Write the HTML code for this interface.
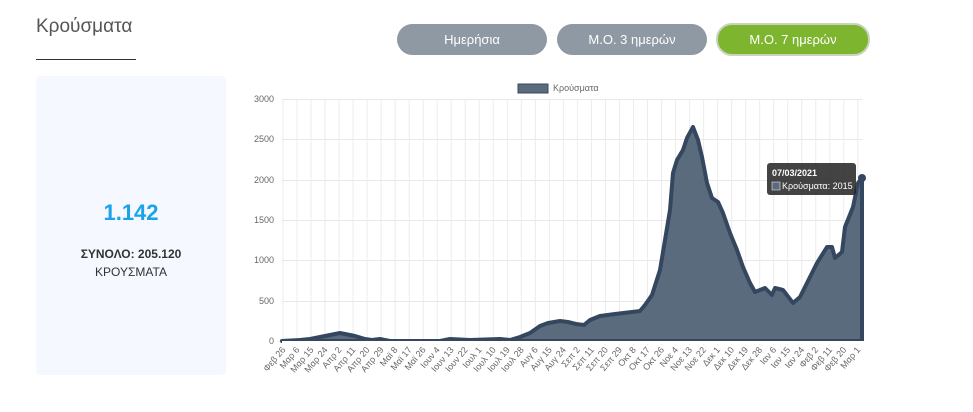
<!DOCTYPE html>
<html><head><meta charset="utf-8"><style>
body{margin:0;width:973px;height:412px;background:#fff;font-family:"Liberation Sans",sans-serif;overflow:hidden;position:relative}
.t{position:absolute;left:36px;top:16px;font-size:19px;color:#555;font-weight:300}
.ul{position:absolute;left:36px;top:59px;width:100px;height:1px;background:#333}
.card{position:absolute;left:36px;top:76px;width:190px;height:299px;background:#f5f8fe;border-radius:4px;text-align:center}
.big{position:absolute;top:124px;width:100%;font-size:22px;font-weight:bold;color:#1aa3e8}
.s1{position:absolute;top:171px;width:100%;font-size:12px;font-weight:bold;color:#333}
.s2{position:absolute;top:189px;width:100%;font-size:12px;color:#333}
.b{position:absolute;top:24px;height:31px;width:150px;border-radius:16px;background:#8e99a4;color:#fff;font-size:13px;line-height:31px;text-align:center}
</style></head><body>
<div class="t">Κρούσματα</div><div class="ul"></div>
<div class="card"><div class="big">1.142</div><div class="s1">ΣΥΝΟΛΟ: 205.120</div><div class="s2">ΚΡΟΥΣΜΑΤΑ</div></div>
<div class="b" style="left:397px">Ημερήσια</div>
<div class="b" style="left:557px">Μ.Ο. 3 ημερών</div>
<div class="b" style="left:716px;top:23px;width:150px;height:29px;line-height:29px;background:#7db52f;border:2px solid #c9d4c0">Μ.Ο. 7 ημερών</div>
<svg width="973" height="412" style="position:absolute;left:0;top:0" font-family="Liberation Sans, sans-serif">
<rect x="518" y="84" width="30" height="9" fill="#5b6b7e" stroke="#3a4a5e"/>
<text x="553" y="91" font-size="9" fill="#666">Κρούσματα</text>
<g stroke="#e8e8e8" stroke-width="1">
<line x1="282" y1="99.5" x2="862" y2="99.5"/><line x1="282" y1="139.5" x2="862" y2="139.5"/><line x1="282" y1="180.5" x2="862" y2="180.5"/><line x1="282" y1="220.5" x2="862" y2="220.5"/><line x1="282" y1="260.5" x2="862" y2="260.5"/><line x1="282" y1="301.5" x2="862" y2="301.5"/><line x1="278" y1="341.5" x2="862" y2="341.5"/>
</g>
<g id="vg" stroke="#ececec"></g>
<g font-size="9" fill="#666" text-anchor="end">
<text x="274" y="102">3000</text><text x="274" y="142">2500</text><text x="274" y="183">2000</text><text x="274" y="223">1500</text><text x="274" y="263">1000</text><text x="274" y="304">500</text><text x="274" y="344">0</text>
</g>
<g id="xl" font-size="9" fill="#666" text-anchor="end"></g>
<polygon fill="#5b6b7e" stroke="#34475e" stroke-width="4" stroke-linejoin="round" points="282,341 300,340 310,339 320,337 330,335 340,333 345,334 355,336 365,339 372,340 380,339 390,341 440,341 450,339 470,340 500,339 510,340 520,337 530,333 540,326 548,323 560,321 568,322 576,324 584,325 590,320 600,316 615,314 640,311 645,305 652,295 660,270 670,210 673,173 677,160 683,150 687,138 693,127 698,140 702,157 707,183 712,198 718,202 723,213 730,233 737,250 743,267 750,283 755,292 765,288 772,295 775,288 783,290 793,303 800,297 807,283 817,263 827,247 832,247 835,258 842,252 845,227 853,207 858,183 862,178 862,341"/>
<rect x="282" y="341" width="582" height="3" fill="#fff"/>
<circle cx="862" cy="178" r="4" fill="#34475e"/>
<rect x="767" y="163" width="89" height="32" rx="3" fill="#222" opacity="0.85"/>
<text x="772" y="176" font-size="9" font-weight="bold" fill="#fff">07/03/2021</text>
<rect x="772" y="182" width="8" height="8" fill="#5b6b7e" stroke="#fff" stroke-width="0.5"/>
<text x="782" y="189" font-size="9" fill="#fff">Κρούσματα: 2015</text>
</svg>
<script>
var L="Φεβ 26,Μαρ 6,Μαρ 15,Μαρ 24,Απρ 2,Απρ 11,Απρ 20,Απρ 29,Μαϊ 8,Μαϊ 17,Μαϊ 26,Ιουν 4,Ιουν 13,Ιουν 22,Ιουλ 1,Ιουλ 10,Ιουλ 19,Ιουλ 28,Αυγ 6,Αυγ 15,Αυγ 24,Σεπ 2,Σεπ 11,Σεπ 20,Σεπ 29,Οκτ 8,Οκτ 17,Οκτ 26,Νοε 4,Νοε 13,Νοε 22,Δεκ 1,Δεκ 10,Δεκ 19,Δεκ 28,Ιαν 6,Ιαν 15,Ιαν 24,Φεβ 2,Φεβ 11,Φεβ 20,Μαρ 1".split(",");
var ns="http://www.w3.org/2000/svg",g=document.getElementById("xl"),v=document.getElementById("vg");
L.forEach(function(s,i){var x=283+i*14.02;
var t=document.createElementNS(ns,"text");t.setAttribute("transform","translate("+(x+3)+",350) rotate(-50)");t.textContent=s;g.appendChild(t);
var l=document.createElementNS(ns,"line");l.setAttribute("x1",x);l.setAttribute("x2",x);l.setAttribute("y1",99);l.setAttribute("y2",345);v.appendChild(l);});
</script>
</body></html>
